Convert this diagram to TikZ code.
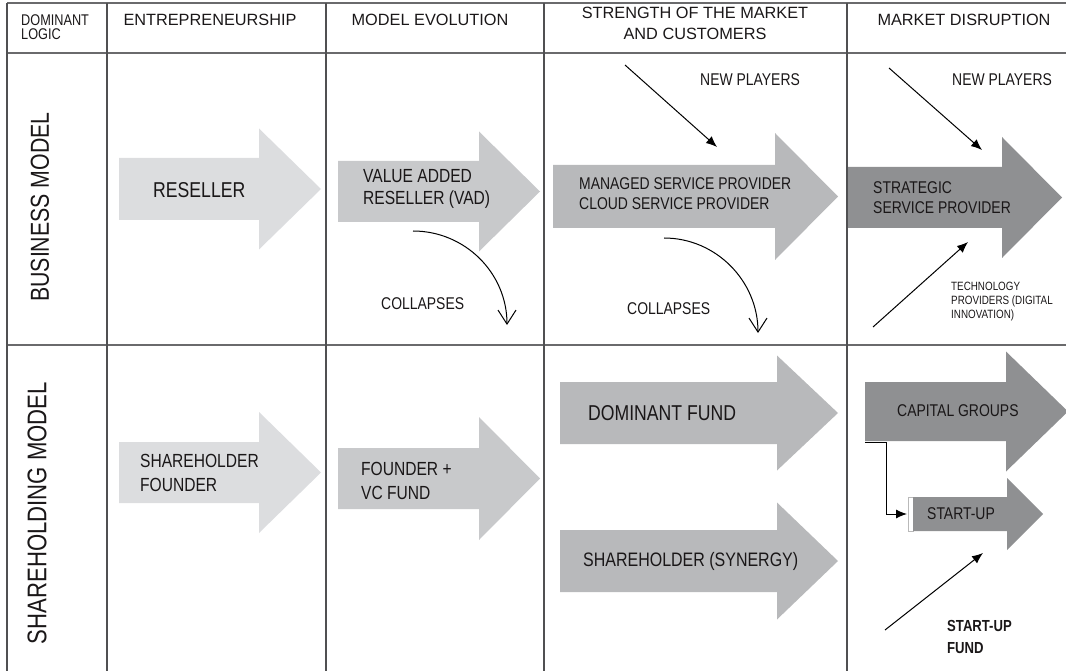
\documentclass[tikz,border=0pt]{standalone}
\usepackage{fontspec}
\setmainfont{Liberation Sans}[FakeStretch=0.82]
\newfontfamily\headfont{Liberation Sans}
\usepackage{xcolor}
\usetikzlibrary{
    calc,
    arrows.meta
}
\definecolor{textgrey}{HTML}{1A1718}
\definecolor{gridgrey}{HTML}{505052}
\definecolor{shadeA}{HTML}{DCDDDF}
\definecolor{shadeB}{HTML}{C8C9CB}
\definecolor{shadeC}{HTML}{B8B9BB}
\definecolor{shadeD}{HTML}{8F9092}
% block arrow: name, colour, left, head start, tip, centre y, shaft half, head half
\newcommand{\blockarrow}[8]{%
    \coordinate (#1) at (#3,#6);
    \fill[#2] (#3,#6-#7) -- (#4,#6-#7) -- (#4,#6-#8) -- (#5,#6)
        -- (#4,#6+#8) -- (#4,#6+#7) -- (#3,#6+#7) -- cycle;
}

\begin{document}
\begin{tikzpicture}[
            x=1pt, y=-1pt,
            gridline/.style={gridgrey, line width=1.3pt},
            rowline/.style={gridgrey!85, line width=2pt},
            headtext/.style={font=\headfont\fontsize{16.3}{21}\selectfont, text=textgrey, inner sep=0pt, align=center},
            celltext/.style={text=textgrey, inner sep=0pt, anchor=west, align=left},
            pusharrow/.style={line width=1pt, -{Latex[length=11pt, width=9pt]}},
            collapsearrow/.style={line width=1pt, -{Straight Barb[length=14pt, width=18pt]}}
        ]
        \useasboundingbox (0,0) rectangle (1066,671);
        % table
        \foreach \y in {3,53,345} \draw[rowline] (7,\y) -- (1066,\y);
        \foreach \x in {7,107,326,544,847} \draw[gridline] (\x,3) -- (\x,671);
        % headers
        \node[celltext, font=\fontsize{15.5}{14.5}\selectfont] (hlogic) at (21,27) {DOMINANT\\LOGIC};
        \node[headtext] (hentre) at (210,20) {ENTREPRENEURSHIP};
        \node[headtext] (hevol) at (430,20) {MODEL EVOLUTION};
        \node[headtext] (hmarket) at (695,23) {STRENGTH OF THE MARKET\\AND CUSTOMERS};
        \node[headtext] (hdisrupt) at (964,20) {MARKET DISRUPTION};
        \node[text=textgrey, rotate=90, inner sep=0pt, font=\fontsize{26}{30}\selectfont] (lbusiness) at (40,207) {BUSINESS MODEL};
        \node[text=textgrey, rotate=90, inner sep=0pt, font=\fontsize{27}{30}\selectfont] (lshare) at (37,513) {SHAREHOLDING MODEL};

        % business model row
        \blockarrow{aresell}{shadeA}{119}{259}{321}{189}{31}{60.5}
        \node[celltext, font=\fontsize{21.5}{24}\selectfont] (tresell) at (153,190) {RESELLER};
        \blockarrow{avad}{shadeB}{338}{479}{540}{191.5}{30.5}{60}
        \node[celltext, font=\fontsize{19}{22}\selectfont] (tvad) at (363,189) {VALUE ADDED\\RESELLER (VAD)};
        \blockarrow{amsp}{shadeC}{553}{775}{838}{196.5}{31.5}{63.5}
        \node[celltext, font=\fontsize{17}{20.5}\selectfont] (tmsp) at (579,193.5) {MANAGED SERVICE PROVIDER\\CLOUD SERVICE PROVIDER};
        \blockarrow{assp}{shadeD}{848}{1002}{1062}{197.5}{30.5}{60.5}
        \node[celltext, font=\fontsize{17}{20.5}\selectfont] (tssp) at (873,197.5) {STRATEGIC\\SERVICE PROVIDER};

        \node[celltext, font=\fontsize{17}{20}\selectfont] (tnew3) at (700,80) {NEW PLAYERS};
        \node[celltext, font=\fontsize{17}{20}\selectfont] (tnew5) at (952,80) {NEW PLAYERS};
        \node[celltext, font=\fontsize{17}{20}\selectfont] (tcoll2) at (381,304) {COLLAPSES};
        \node[celltext, font=\fontsize{17}{20}\selectfont] (tcoll3) at (627,309) {COLLAPSES};
        \node[celltext, font=\fontsize{12}{14}\selectfont] (ttech) at (951,302) {TECHNOLOGY\\PROVIDERS (DIGITAL\\INNOVATION)};

        \coordinate (np3from) at (625,65);
        \coordinate (np3to) at (717,147);
        \coordinate (np5from) at (889,68);
        \coordinate (np5to) at (982,150);
        \coordinate (techfrom) at (873,327);
        \coordinate (techto) at (968,242);
        \draw[pusharrow] (np3from) -- (np3to);
        \draw[pusharrow] (np5from) -- (np5to);
        \draw[pusharrow] (techfrom) -- (techto);

        \coordinate (vadfall) at (413,231);
        \coordinate (vadend) at (507,325);
        \coordinate (mspfall) at (664,238);
        \coordinate (mspend) at (758,333);
        \draw[collapsearrow] (vadfall) .. controls +(52,0) and +(0,-52) .. (vadend);
        \draw[collapsearrow] (mspfall) .. controls +(52,0) and +(0,-52) .. (mspend);

        % shareholding model row
        \blockarrow{afound}{shadeA}{119}{259}{321}{472.5}{30.5}{60.5}
        \node[celltext, font=\fontsize{19}{24}\selectfont] (tfound) at (140,473) {SHAREHOLDER\\FOUNDER};
        \blockarrow{avc}{shadeB}{338}{479}{540}{478.5}{30.5}{61.5}
        \node[celltext, font=\fontsize{19}{24}\selectfont] (tvc) at (361,481) {FOUNDER +\\VC FUND};
        \blockarrow{adom}{shadeC}{560}{777}{838}{413}{31}{57.5}
        \node[celltext, font=\fontsize{21.5}{24}\selectfont] (tdom) at (588,413) {DOMINANT FUND};
        \blockarrow{asyn}{shadeC}{560}{777}{838}{561}{31}{58.5}
        \node[celltext, font=\fontsize{19.5}{24}\selectfont] (tsyn) at (583,561) {SHAREHOLDER (SYNERGY)};
        \blockarrow{acap}{shadeD}{865}{1006}{1068}{411.5}{29.5}{60}
        \node[celltext, font=\fontsize{17}{20}\selectfont] (tcap) at (897,411) {CAPITAL GROUPS};
        \draw[gray!55, fill=white, line width=0.8pt] (908,497) rectangle (913,531);
        \blockarrow{astart}{shadeD}{913}{1007}{1043}{514}{17}{36}
        \node[celltext, font=\fontsize{17}{20}\selectfont] (tstart) at (927,514) {START-UP};
        \node[celltext, font=\bfseries\fontsize{16}{22}\selectfont] (tfund) at (947,637) {START-UP\\FUND};

        \coordinate (capsplit) at (865,442);
        \coordinate (startin) at (907,514);
        \draw[pusharrow] (capsplit) -- ++(21,0) |- (startin);
        \coordinate (fundfrom) at (885,630);
        \coordinate (fundto) at (983,553);
        \draw[pusharrow] (fundfrom) -- (fundto);
    \end{tikzpicture}
\end{document}
